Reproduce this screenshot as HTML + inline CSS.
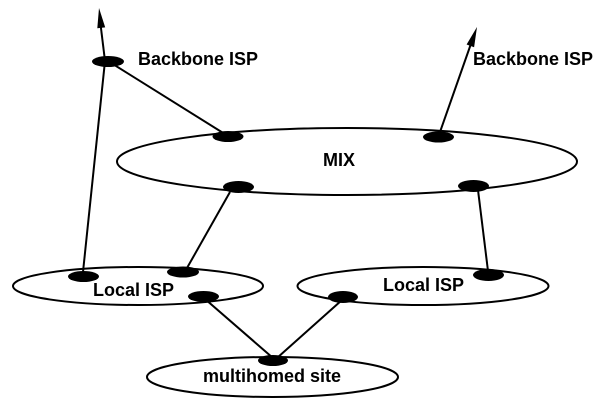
<!DOCTYPE html>
<html>
<head>
<meta charset="utf-8">
<style>
html,body{margin:0;padding:0;background:#fff;}
svg{display:block;}
text{font-family:"Liberation Sans",Arial,sans-serif;font-weight:bold;font-size:18px;fill:#000;}
</style>
</head>
<body>
<svg width="606" height="409" viewBox="0 0 606 409" xmlns="http://www.w3.org/2000/svg">
<rect width="606" height="409" fill="#fff"/>
<g fill="none" stroke="#000" stroke-width="2">
<ellipse cx="347" cy="161.5" rx="230" ry="33.5"/>
<ellipse cx="138" cy="286" rx="125" ry="19"/>
<ellipse cx="423" cy="286" rx="125.5" ry="19"/>
<ellipse cx="272.5" cy="377" rx="125.5" ry="20"/>
<line x1="83" y1="272" x2="105" y2="61"/>
<line x1="105" y1="61" x2="100" y2="20"/>
<line x1="108" y1="61" x2="228" y2="136"/>
<line x1="440" y1="132" x2="473" y2="38"/>
<line x1="230" y1="192" x2="187" y2="268"/>
<line x1="478" y1="190" x2="488" y2="271"/>
<line x1="205" y1="299" x2="273" y2="358"/>
<line x1="277" y1="358" x2="342" y2="300"/>
</g>
<g fill="#000">
<polygon points="99,8 105.2,27.4 97.3,28.3"/>
<polygon points="477,27 474.1,47.2 466.6,44.5"/>
<ellipse cx="108" cy="61.5" rx="16" ry="5.5"/>
<ellipse cx="228" cy="136.5" rx="15.5" ry="5.5"/>
<ellipse cx="438.5" cy="137" rx="15.5" ry="5.5"/>
<ellipse cx="238.5" cy="187" rx="15.5" ry="6"/>
<ellipse cx="473.5" cy="186" rx="15.5" ry="6"/>
<ellipse cx="83.5" cy="276.5" rx="15.5" ry="5.5"/>
<ellipse cx="183" cy="272" rx="16" ry="5.5"/>
<ellipse cx="203.5" cy="296.5" rx="15.5" ry="5.5"/>
<ellipse cx="343" cy="297" rx="15" ry="6"/>
<ellipse cx="488.5" cy="275" rx="15.5" ry="6"/>
<ellipse cx="273" cy="360.5" rx="15" ry="5.5"/>
</g>
<text x="138" y="65">Backbone ISP</text>
<text x="473" y="65">Backbone ISP</text>
<text x="323" y="166">MIX</text>
<text x="93" y="296">Local ISP</text>
<text x="383" y="291">Local ISP</text>
<text x="203" y="382">multihomed site</text>
</svg>
</body>
</html>
